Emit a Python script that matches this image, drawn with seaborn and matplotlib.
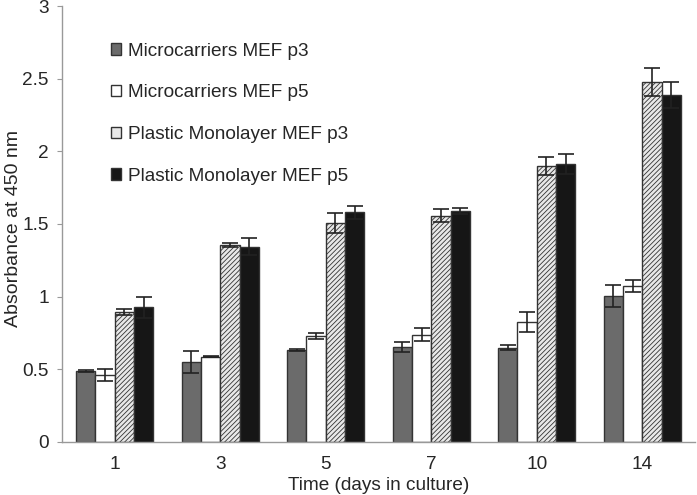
import numpy as np
import pandas as pd
import matplotlib
matplotlib.use("Agg")
import matplotlib.pyplot as plt
import seaborn as sns

days = ["1", "3", "5", "7", "10", "14"]
series = ["Microcarriers MEF p3", "Microcarriers MEF p5",
          "Plastic Monolayer MEF p3", "Plastic Monolayer MEF p5"]
micro_p3 = [0.49, 0.553, 0.634, 0.652, 0.65, 1.004]
micro_p5 = [0.463, 0.587, 0.73, 0.737, 0.825, 1.074]
plastic_p3 = [0.896, 1.355, 1.507, 1.557, 1.899, 2.479]
plastic_p5 = [0.926, 1.345, 1.58, 1.59, 1.912, 2.387]
err_micro_p3 = [0.008, 0.075, 0.006, 0.033, 0.016, 0.076]
err_micro_p5 = [0.04, 0.005, 0.018, 0.044, 0.069, 0.041]
err_plastic_p3 = [0.022, 0.012, 0.069, 0.046, 0.059, 0.095]
err_plastic_p5 = [0.07, 0.057, 0.046, 0.023, 0.069, 0.087]

values = [micro_p3, micro_p5, plastic_p3, plastic_p5]
errors = [err_micro_p3, err_micro_p5, err_plastic_p3, err_plastic_p5]

rows = []
for s, vals, errs in zip(series, values, errors):
    for d, v, e in zip(days, vals, errs):
        rows.append({"day": d, "series": s, "value": v, "err": e})
df = pd.DataFrame(rows)

sns.set_style("white")
plt.rcParams["font.family"] = ["Liberation Sans", "DejaVu Sans"]
plt.rcParams["hatch.color"] = "#808080"
plt.rcParams["hatch.linewidth"] = 0.6

FS = 13.7

fig = plt.figure(figsize=(6.97, 4.95), dpi=100)
ax = fig.add_axes([62/697, 1 - 442/495, 633/697, (442 - 6)/495])

colors = ["#6b6b6b", "#ffffff", "#e8e8e8", "#161616"]
hatches = [None, None, "///////", None]

sns.barplot(data=df, x="day", y="value", hue="series", order=days,
            hue_order=series, palette=colors, width=0.73, errorbar=None,
            edgecolor="#333333", linewidth=1.0, saturation=1, ax=ax)

bar_containers = list(ax.containers)
for i, cont in enumerate(bar_containers):
    for j, patch in enumerate(cont.patches):
        if hatches[i]:
            patch.set_hatch(hatches[i])
        cx = patch.get_x() + patch.get_width() / 2
        ax.errorbar(cx, values[i][j], yerr=errors[i][j], fmt="none",
                    ecolor="#222222", elinewidth=1.2, capsize=5.5, capthick=1.2,
                    zorder=5)

ax.set_ylim(0, 3)
ax.set_xlim(-0.5, 5.5)
ax.set_yticks([0, 0.5, 1, 1.5, 2, 2.5, 3])
ax.set_yticklabels(["0", "0.5", "1", "1.5", "2", "2.5", "3"])
ax.set_xticks(range(len(days)))
ax.set_xticklabels(days)
ax.set_xticks(np.arange(-0.5, 6.0, 1.0), minor=True)
ax.tick_params(axis="x", which="major", length=0, labelsize=FS, pad=10)
ax.tick_params(axis="x", which="minor", length=5, color="#999999", direction="out")
ax.tick_params(axis="y", which="major", length=3.5, color="#999999", direction="out",
               labelsize=FS, left=True, pad=6)

for sp in ["top", "right"]:
    ax.spines[sp].set_visible(False)
for sp in ["left", "bottom"]:
    ax.spines[sp].set_color("#999999")
    ax.spines[sp].set_linewidth(1.0)

ax.set_xlabel("Time (days in culture)", fontsize=FS, labelpad=3)
ax.set_ylabel("Absorbance at 450 nm", fontsize=14)
ax.yaxis.set_label_coords(-0.063, 0.489)

leg = ax.legend(loc="upper left", bbox_to_anchor=(0.05, 0.955), frameon=False,
                fontsize=FS, handlelength=0.55, handleheight=0.55,
                handletextpad=0.35, labelspacing=1.3)
for h in leg.legend_handles:
    h.set_linewidth(1.0)

fig.savefig("out.png", dpi=100)
